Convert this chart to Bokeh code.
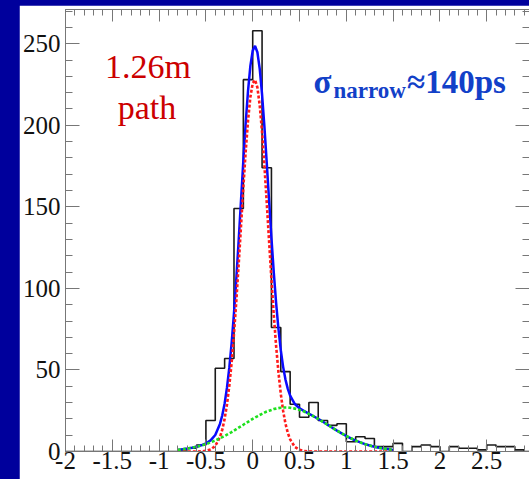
import numpy as np
from bokeh.plotting import figure
from bokeh.models import Range1d, LinearAxis, FixedTicker, Label, ColumnDataSource
from bokeh.layouts import column
from bokeh.embed import file_html
from bokeh.resources import INLINE

# ---------------- data ----------------
bin_start = -2.0
bin_width = 0.1
counts = [0] * 12 + [1, 2, 4, 19, 51, 57, 149, 228, 258, 174, 76, 49, 29, 21, 30, 19, 16, 17,
                     6, 9, 8, 3, 3, 5, 0, 3, 4, 3, 0, 3, 2, 2, 1, 4, 3, 3, 1, 0]

fit_x = [-0.80, -0.75, -0.70, -0.65, -0.60, -0.55, -0.50, -0.45, -0.40, -0.35, -0.325, -0.30,
         -0.275, -0.25, -0.225, -0.20, -0.175, -0.15, -0.125, -0.10, -0.075, -0.05, -0.025,
         0.00, 0.025, 0.05, 0.075, 0.10, 0.125, 0.15, 0.175, 0.20, 0.225, 0.25, 0.275, 0.30,
         0.325, 0.35, 0.375, 0.40, 0.45, 0.50, 0.55, 0.60, 0.65, 0.70, 0.75, 0.80, 0.85, 0.90,
         0.95, 1.00, 1.05, 1.10, 1.15, 1.20, 1.25, 1.30, 1.35, 1.40, 1.45, 1.50]

fit_total = [1.0, 1.4, 1.8, 2.3, 2.9, 3.8, 4.9, 6.8, 10.1, 16.9, 22.2, 29.5,
             39.1, 51.4, 66.6, 84.9, 106.0, 129.3, 153.8, 178.3, 201.3, 221.1, 236.4,
             245.8, 248.7, 244.8, 234.6, 218.9, 199.2, 177.0, 153.8, 131.0, 109.9, 91.1, 75.2, 62.1,
             51.9, 44.1, 38.4, 34.2, 29.1, 26.5, 24.8, 23.2, 21.6, 20.0, 18.2, 16.4, 14.6, 12.8,
             11.1, 9.5, 8.1, 6.7, 5.6, 4.5, 3.7, 2.9, 2.3, 1.8, 1.4, 1.0]

fit_narrow = [0.0, 0.0, 0.0, 0.0, 0.0, 0.1, 0.4, 1.2, 3.4, 8.8, 13.4, 20.0,
              28.8, 40.3, 54.7, 72.1, 92.3, 114.7, 138.3, 161.9, 184.0, 202.9, 217.3,
              225.8, 227.9, 223.2, 212.2, 195.8, 175.4, 152.5, 128.8, 105.5, 83.9, 64.8, 48.6, 35.3,
              24.9, 17.1, 11.4, 7.4, 2.8, 1.0, 0.3, 0.1, 0.0, 0.0, 0.0, 0.0, 0.0, 0.0,
              0.0, 0.0, 0.0, 0.0, 0.0, 0.0, 0.0, 0.0, 0.0, 0.0, 0.0, 0.0]

fit_wide = [1.0, 1.4, 1.8, 2.3, 2.9, 3.7, 4.5, 5.6, 6.7, 8.1, 8.8, 9.5,
            10.3, 11.1, 11.9, 12.8, 13.7, 14.6, 15.5, 16.4, 17.3, 18.2, 19.1,
            20.0, 20.8, 21.6, 22.4, 23.1, 23.8, 24.5, 25.0, 25.5, 26.0, 26.3, 26.6, 26.8,
            27.0, 27.0, 27.0, 26.8, 26.3, 25.5, 24.5, 23.1, 21.6, 20.0, 18.2, 16.4, 14.6, 12.8,
            11.1, 9.5, 8.1, 6.7, 5.6, 4.5, 3.7, 2.9, 2.3, 1.8, 1.4, 1.0]

x_ticks = [-2, -1.5, -1, -0.5, 0, 0.5, 1, 1.5, 2, 2.5, 3]
x_tick_labels = ["-2", "-1.5", "-1", "-0.5", "0", "0.5", "1", "1.5", "2", "2.5", "3"]
y_ticks = [0, 50, 100, 150, 200, 250]
y_tick_labels = ["0", "50", "100", "150", "200", "250"]

# ---------------- styling ----------------
BG = "#00009c"
AX = "#777777"
FONT = "'Liberation Serif', 'Times New Roman', serif"

edges = bin_start + bin_width * np.arange(len(counts) + 1)
hist_src = ColumnDataSource(dict(x=edges, y=list(counts) + [counts[-1]]))
fit_src = ColumnDataSource(dict(x=fit_x, total=fit_total, narrow=fit_narrow, wide=fit_wide))

p = figure(width=510, height=474, x_range=Range1d(-2, 2.957), y_range=Range1d(0, 271),
           output_backend="svg", toolbar_location=None,
           min_border_left=44, min_border_right=0, min_border_top=4, min_border_bottom=28,
           border_fill_color="white", background_fill_color="white",
           outline_line_color=None)
p.grid.visible = False

x_minor = [round(-2 + 0.1 * i, 1) for i in range(51)]
y_minor = list(range(0, 280, 10))


def style_axis(ax, major_in, minor_in, show_labels, overrides):
    ax.axis_line_color = AX
    ax.axis_line_width = 1
    ax.major_tick_line_color = AX
    ax.minor_tick_line_color = AX
    ax.major_tick_in = major_in
    ax.major_tick_out = 0
    ax.minor_tick_in = minor_in
    ax.minor_tick_out = 0
    if show_labels:
        ax.major_label_text_font = FONT
        ax.major_label_text_font_size = "25px"
        ax.major_label_text_color = "#111111"
        ax.major_label_overrides = overrides
    else:
        ax.major_label_text_font_size = "0px"
        ax.major_label_text_alpha = 0
        ax.major_label_standoff = 0


x_over = dict(zip(x_ticks, x_tick_labels))
y_over = dict(zip(y_ticks, y_tick_labels))

xb = p.xaxis[0]
xb.ticker = FixedTicker(ticks=x_ticks, minor_ticks=x_minor)
style_axis(xb, 12, 6, True, x_over)
xb.major_label_standoff = 0

yl = p.yaxis[0]
yl.ticker = FixedTicker(ticks=y_ticks, minor_ticks=y_minor)
style_axis(yl, 14, 7, True, y_over)
yl.major_label_standoff = 5

xt = LinearAxis(ticker=FixedTicker(ticks=x_ticks, minor_ticks=x_minor))
style_axis(xt, 12, 6, False, {})
p.add_layout(xt, "above")

yr = LinearAxis(ticker=FixedTicker(ticks=y_ticks, minor_ticks=y_minor))
style_axis(yr, 14, 7, False, {})
yr.axis_line_color = None
p.add_layout(yr, "right")

# histogram
p.step(x="x", y="y", source=hist_src, mode="after", line_color="#1a1a1a", line_width=1.6)

# fits
p.line(x="x", y="total", source=fit_src, line_color="#0a0aff", line_width=2.5)
p.line(x="x", y="narrow", source=fit_src, line_color="#ff1a1a", line_width=2.6, line_dash="3 2")
p.line(x="x", y="wide", source=fit_src, line_color="#1ee01e", line_width=2.6, line_dash="3 2")

# texts
p.add_layout(Label(x=-1.12, y=235.9, text="1.26m", text_font=FONT, text_font_size="34px",
                   text_color="#cc0000", text_align="center", text_baseline="alphabetic"))
p.add_layout(Label(x=-1.13, y=210.7, text="path", text_font=FONT, text_font_size="34px",
                   text_color="#cc0000", text_align="center", text_baseline="alphabetic"))
TXT_BLUE = "#1240c8"
p.add_layout(Label(x=0.649, y=226.7, text="σ", text_font=FONT, text_font_size="33px",
                   text_font_style="bold", text_color=TXT_BLUE, text_align="left",
                   text_baseline="alphabetic"))
p.add_layout(Label(x=0.862, y=221.1, text="narrow", text_font=FONT, text_font_size="23px",
                   text_font_style="bold", text_color=TXT_BLUE, text_align="left",
                   text_baseline="alphabetic"))
p.add_layout(Label(x=1.649, y=226.7, text="≈140ps", text_font=FONT, text_font_size="33px",
                   text_font_style="bold", text_color=TXT_BLUE, text_align="left",
                   text_baseline="alphabetic"))

p.margin = (5, 0, 0, 19)
root = column(p, styles={"background-color": BG})

open("out.html", "w").write(file_html(root, INLINE))
